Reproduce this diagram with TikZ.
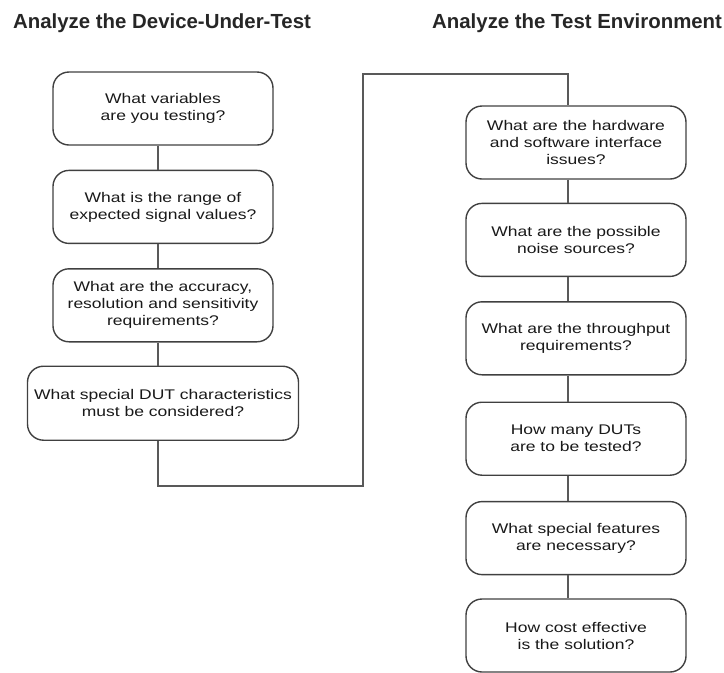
\documentclass[tikz,border=0pt]{standalone}
\usepackage{fontspec}
\setmainfont{Liberation Sans}
\newfontfamily\boxfont[FakeStretch=1.25]{Liberation Sans}
\usepackage{xcolor}
\usetikzlibrary{positioning}

\tikzset{
    question/.style={draw=black!75, line width=1.4pt, rounded corners=16pt,
        minimum width=220pt, minimum height=73pt, inner sep=0pt, align=center,
        text=black!90, font=\boxfont\fontsize{14}{17}\selectfont},
    widequestion/.style={question, minimum width=271pt, minimum height=74pt},
    heading/.style={anchor=base west, inner sep=0pt, text=black!85,
        font=\bfseries\fontsize{20.4}{24}\selectfont},
    link/.style={draw=black!65, line width=1.4pt},
}

\begin{document}
\begin{tikzpicture}[x=1pt, y=-1pt]
        \useasboundingbox (0,0) rectangle (724,673);

        \node[heading] (dutTitle) at (13,28) {Analyze the Device-Under-Test};
        \node[heading] (envTitle) at (432,28) {Analyze the Test Environment};

        % device under test
        \node[question] (dut1) at (163,108.5) {What variables\\are you testing?};
        \node[question, below=24pt of dut1] (dut2) {What is the range of\\expected signal values?};
        \node[question, below=24pt of dut2] (dut3) {What are the accuracy,\\resolution and sensitivity\\requirements?};
        \node[widequestion, below=23pt of dut3] (dut4) {What special DUT characteristics\\must be considered?};

        % test environment
        \node[question] (env1) at (576,142.5) {What are the hardware\\and software interface\\issues?};
        \node[question, below=23pt of env1] (env2) {What are the possible\\noise sources?};
        \node[question, below=24pt of env2] (env3) {What are the throughput\\requirements?};
        \node[question, below=26pt of env3] (env4) {How many DUTs\\are to be tested?};
        \node[question, below=25pt of env4] (env5) {What special features\\are necessary?};
        \node[question, below=23pt of env5] (env6) {How cost effective\\is the solution?};

        \foreach \a/\b in {dut1/dut2, dut2/dut3, dut3/dut4}
            \draw[link] ([xshift=-5pt]\a.south) -- ([xshift=-5pt]\b.north);
        \foreach \a/\b in {env1/env2, env2/env3, env3/env4, env4/env5, env5/env6}
            \draw[link] ([xshift=-8pt]\a.south) -- ([xshift=-8pt]\b.north);

        \coordinate (turnLow) at (363,486);
        \coordinate (turnHigh) at (363,74);
        \draw[link] ([xshift=-5pt]dut4.south) |- (turnLow) -- (turnHigh) -| ([xshift=-8pt]env1.north);
\end{tikzpicture}
\end{document}
